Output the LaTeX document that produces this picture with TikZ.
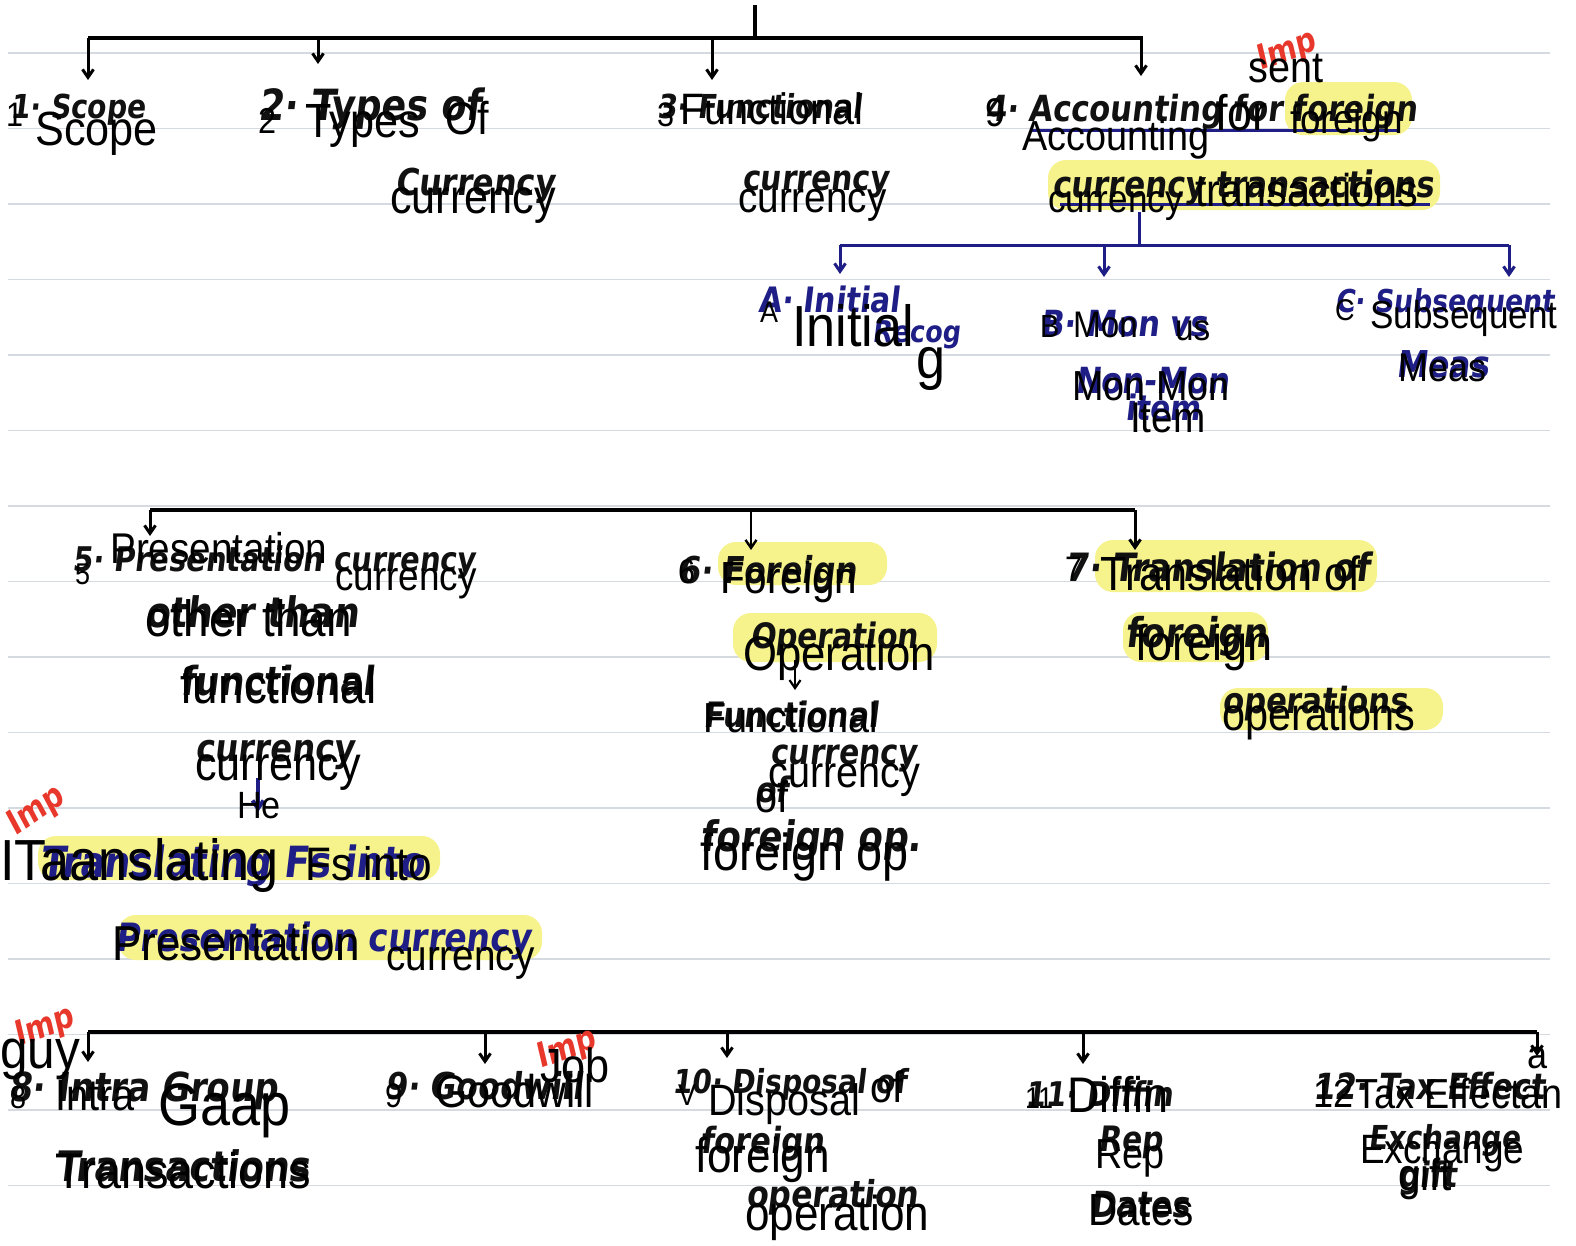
\documentclass[tikz,border=0pt]{standalone}
\usepackage{fontspec}
\usetikzlibrary{arrows.meta}
\newfontfamily\prfont[FakeStretch=0.9]{Liberation Sans}
\newfontfamily\hwfont[FakeStretch=0.85,FakeSlant=0.12]{DejaVu Sans}
\definecolor{ink}{HTML}{111111}
\definecolor{navyink}{HTML}{1E1E86}
\definecolor{impred}{HTML}{E8382C}
\definecolor{hly}{HTML}{F7F38C}
\definecolor{rulec}{HTML}{D5DAE0}
\tikzset{
  ptxt/.style={font=\prfont\fontsize{#1}{#1}\selectfont, anchor=base west, inner sep=0pt, text=black},
  htxt/.style={font=\hwfont\bfseries\fontsize{#1}{#1}\selectfont, anchor=base west, inner sep=0pt, text=ink},
  htxtn/.style={htxt=#1, text=navyink},
  impm/.style={font=\hwfont\bfseries\fontsize{#1}{#1}\selectfont, text=impred, anchor=center, inner sep=0pt, rotate=20},
  hilite/.style={fill=hly, draw=none, rounded corners=18pt},
  ruleline/.style={draw=rulec, line width=1.6pt},
  treeline/.style={draw=black, line width=3.6pt},
  navyline/.style={draw=navyink, line width=3pt},
  downarr/.style={-{Straight Barb[length=8pt,width=11pt]}, line width=3pt},
}
\begin{document}
\begin{tikzpicture}[x=1pt,y=-1pt]
\useasboundingbox[fill=white] (0,0) rectangle (1576,1245);
% ruled lines
\foreach \k in {0,...,15}{
  \draw[ruleline] (8,{53+75.5*\k}) -- (1550,{53+75.5*\k});
}
% highlights
\fill[hilite] (1285,82) rectangle (1412,135);
\fill[hilite] (1048,160) rectangle (1440,210);
\fill[hilite] (718,542) rectangle (887,585);
\fill[hilite] (733,613) rectangle (937,662);
\fill[hilite] (1095,540) rectangle (1377,592);
\fill[hilite] (1123,612) rectangle (1268,662);
\fill[hilite] (1220,688) rectangle (1443,730);
\fill[hilite] (38,836) rectangle (440,880);
\fill[hilite] (118,915) rectangle (542,960);

% ---------- coordinates for trees ----------
\coordinate (topstem) at (755,5);
\coordinate (topj) at (755,38);
\coordinate (tl) at (88,38);
\coordinate (tr) at (1143,38);
\coordinate (b1) at (88,38);   \coordinate (e1) at (88,80);
\coordinate (b2) at (318,38);  \coordinate (e2) at (318,64);
\coordinate (b3) at (712,38);  \coordinate (e3) at (712,80);
\coordinate (b4) at (1141,38); \coordinate (e4) at (1141,76);

\coordinate (substem) at (1139,212);
\coordinate (subj) at (1139,245);
\coordinate (sl) at (840,245);
\coordinate (sr) at (1509,245);
\coordinate (sA) at (840,245);  \coordinate (eA) at (840,274);
\coordinate (sB) at (1104,245); \coordinate (eB) at (1104,277);
\coordinate (sC) at (1509,245); \coordinate (eC) at (1509,277);

\coordinate (ml) at (150,510);
\coordinate (mr) at (1135,510);
\coordinate (m6) at (751,510);
\coordinate (e5) at (150,536);
\coordinate (e6) at (751,550);
\coordinate (e7) at (1135,550);

\coordinate (bl) at (88,1032);
\coordinate (br) at (1537,1032);
\coordinate (b9) at (485,1032);
\coordinate (b10) at (727,1032);
\coordinate (b11) at (1083,1032);
\coordinate (e8) at (88,1062);
\coordinate (e9) at (485,1064);
\coordinate (e10) at (727,1058);
\coordinate (e11) at (1083,1064);
\coordinate (e12) at (1537,1056);

\coordinate (ul1a) at (1030,130); \coordinate (ul1b) at (1400,130);
\coordinate (ul2a) at (1060,204); \coordinate (ul2b) at (1430,204);
\coordinate (hea) at (258,778); \coordinate (heb) at (258,812);
\coordinate (opa) at (795,660); \coordinate (opb) at (795,690);

% trees
\draw[treeline] (topstem) -- (topj);
\draw[treeline] (tl) -- (tr);
\draw[treeline,downarr] (b1) -- (e1);
\draw[treeline,downarr] (b2) -- (e2);
\draw[treeline,downarr] (b3) -- (e3);
\draw[treeline,downarr] (b4) -- (e4);

\draw[navyline] (substem) -- (subj);
\draw[navyline] (sl) -- (sr);
\draw[navyline,downarr] (sA) -- (eA);
\draw[navyline,downarr] (sB) -- (eB);
\draw[navyline,downarr] (sC) -- (eC);

\draw[treeline] (ml) -- (mr);
\draw[treeline,downarr] (ml) -- (e5);
\draw[treeline,downarr,line width=2.4pt] (m6) -- (e6);
\draw[treeline,downarr] (mr) -- (e7);

\draw[treeline] (bl) -- (br);
\draw[treeline,downarr] (bl) -- (e8);
\draw[treeline,downarr] (b9) -- (e9);
\draw[treeline,downarr] (b10) -- (e10);
\draw[treeline,downarr] (b11) -- (e11);
\draw[treeline,downarr] (br) -- (e12);

\draw[navyline] (ul1a) -- (ul1b);
\draw[navyline] (ul2a) -- (ul2b);
\draw[navyline,downarr,line width=4pt] (hea) -- (heb);
\draw[treeline,downarr,line width=2.2pt] (opa) -- (opb);

% ---------- handwriting ----------
\node[htxt=33] (h1) at (10,118) {1· Scope};
\node[htxt=43] (h2) at (258,120) {2· Types of};
\node[htxt=37] (h2b) at (395,195) {Currency};
\node[htxt=33] (h3) at (657,118) {3· Functional};
\node[htxt=35] (h3b) at (742,190) {currency};
\node[htxt=36] (h4) at (985,121) {4· Accounting for foreign};
\node[htxt=36.5] (h4b) at (1052,197) {currency transactions};
\node[htxtn=35] (hA) at (758,312) {A· Initial};
\node[htxtn=30] (hA2) at (872,342) {Recog};
\node[htxtn=36] (hB) at (1040,336) {B· Mon vs};
\node[htxtn=36] (hB2) at (1075,393) {Non-Mon};
\node[htxtn=35] (hB3) at (1125,420) {item};
\node[htxtn=31.5] (hC) at (1335,312) {C· Subsequent};
\node[htxtn=37] (hC2) at (1396,377) {Meas};

\node[htxt=34] (h5) at (72,571) {5· Presentation currency};
\node[htxt=42] (h5b) at (145,627) {other than};
\node[htxt=40] (h5c) at (180,695) {functional};
\node[htxt=38] (h5d) at (195,761) {currency};
\node[htxtn=43] (h5e) at (40,877) {Translating Fs into};
\node[htxtn=39] (h5f) at (115,951) {Presentation currency};
\node[htxt=37] (h6) at (678,583) {6· Foreign};
\node[htxt=35] (h6b) at (750,648) {Operation};
\node[htxt=35] (h6c) at (703,727) {Functional};
\node[htxt=35] (h6d) at (770,764) {currency};
\node[htxt=35] (h6e) at (755,802) {of};
\node[htxt=42] (h6f) at (700,851) {foreign op.};
\node[htxt=39] (h7) at (1065,581) {7· Translation of};
\node[htxt=41] (h7b) at (1125,647) {foreign};
\node[htxt=36] (h7c) at (1222,713) {operations};

\node[htxt=40] (h8) at (8,1101) {8· Intra Group};
\node[htxt=42] (h8b) at (55,1181) {Transactions};
\node[htxt=37] (h9) at (385,1099) {9· Goodwill};
\node[htxt=33] (h10) at (672,1093) {10· Disposal of};
\node[htxt=36] (h10b) at (700,1153) {foreign};
\node[htxt=37] (h10c) at (746,1207) {operation};
\node[htxt=34] (h11) at (1025,1106) {11· Diffin};
\node[htxt=35] (h11b) at (1098,1151) {Rep};
\node[htxt=36] (h11c) at (1090,1217) {Dates};
\node[htxt=36] (h12) at (1313,1099) {12· Tax Effect};
\node[htxt=33] (h12b) at (1368,1149) {Exchange};
\node[htxt=35] (h12c) at (1398,1187) {gift};

% red Imp marks
\node[impm=34] (i1) at (1286,52) {Imp};
\node[impm=34, rotate=15] (i2) at (36,812) {Imp};
\node[impm=34] (i3) at (44,1028) {Imp};
\node[impm=34] (i4) at (566,1050) {Imp};

% ---------- printed (OCR) text ----------
\node[ptxt=34] (p1n) at (6,126) {1};
\node[ptxt=48] (p1) at (35,145) {Scope};
\node[ptxt=36] (p2n) at (258,133) {2};
\node[ptxt=48] (p2) at (305,137) {Types};
\node[ptxt=46] (p2o) at (445,134) {Of};
\node[ptxt=48] (p2b) at (390,213) {currency};
\node[ptxt=34] (p3n) at (657,126) {3};
\node[ptxt=44] (p3) at (680,124) {Functional};
\node[ptxt=43] (p3b) at (738,212) {currency};
\node[ptxt=40] (p4n) at (985,126) {9};
\node[ptxt=42] (p4a) at (1022,150) {Accounting};
\node[ptxt=50] (p4b) at (1215,130) {for};
\node[ptxt=41] (p4c) at (1290,133) {foreign};
\node[ptxt=44] (p4s) at (1248,82) {sent};
\node[ptxt=39] (p4d) at (1048,212) {currency};
\node[ptxt=46] (p4e) at (1195,206) {transactions};
\node[ptxt=30] (pAn) at (760,322) {A};
\node[ptxt=58] (pA) at (792,346) {Initial};
\node[ptxt=58] (pAg) at (916,378) {g};
\node[ptxt=32] (pBn) at (1040,337) {B};
\node[ptxt=37] (pB) at (1073,337) {Mon};
\node[ptxt=37] (pBus) at (1175,340) {us};
\node[ptxt=30] (pCn) at (1335,320) {C};
\node[ptxt=39] (pC) at (1370,328) {Subsequent};
\node[ptxt=40] (pC2) at (1398,381) {Meas};
\node[ptxt=42] (pB2) at (1072,400) {Mon Mon};
\node[ptxt=43] (pB3) at (1130,432) {Item};

\node[ptxt=30] (p5n) at (75,584) {5};
\node[ptxt=43] (p5) at (110,563) {Presentation};
\node[ptxt=41] (p5a) at (335,590) {currency};
\node[ptxt=51] (p5b) at (145,636) {other than};
\node[ptxt=51] (p5c) at (180,703) {functional};
\node[ptxt=48] (p5d) at (195,780) {currency};
\node[ptxt=38] (p5e) at (237,818) {He};
\node[ptxt=58] (p5f) at (0,880) {ITaanslating};
\node[ptxt=47] (p5g) at (305,880) {Fs into};
\node[ptxt=49] (p5h) at (112,960) {Presentation};
\node[ptxt=43] (p5i) at (386,970) {currency};
\node[ptxt=34] (p6n) at (678,583) {6};
\node[ptxt=45] (p6) at (720,593) {Foreign};
\node[ptxt=48.5] (p6a) at (743,670) {Operation};
\node[ptxt=42] (p6b) at (703,732) {Functional};
\node[ptxt=44] (p6c) at (768,787) {currency};
\node[ptxt=44] (p6d) at (755,812) {of};
\node[ptxt=52] (p6e) at (700,870) {foreign op};
\node[ptxt=34] (p7n) at (1065,580) {7};
\node[ptxt=48] (p7) at (1100,590) {Translation of};
\node[ptxt=50] (p7a) at (1135,660) {foreign};
\node[ptxt=46] (p7b) at (1222,730) {operations};

\node[ptxt=55] (p8g) at (0,1068) {guy};
\node[ptxt=32] (p8n) at (10,1108) {8};
\node[ptxt=44] (p8) at (55,1110) {Intra};
\node[ptxt=60] (p8a) at (158,1125) {Gaap};
\node[ptxt=50] (p8b) at (55,1188) {Transactions};
\node[ptxt=34] (p9n) at (385,1107) {9};
\node[ptxt=46] (p9) at (435,1107) {Goodwill};
\node[ptxt=48] (p9j) at (540,1082) {Job};
\node[ptxt=30] (p10n) at (678,1105) {V};
\node[ptxt=44] (p10) at (708,1115) {Disposal};
\node[ptxt=44] (p10o) at (870,1102) {of};
\node[ptxt=49] (p10a) at (695,1172) {foreign};
\node[ptxt=49] (p10b) at (745,1230) {operation};
\node[ptxt=30] (p11n) at (1025,1108) {11};
\node[ptxt=50] (p11) at (1067,1112) {Diffin};
\node[ptxt=42] (p11a) at (1095,1168) {Rep};
\node[ptxt=45] (p11b) at (1088,1225) {Dates};
\node[ptxt=40] (p12n) at (1313,1107) {12};
\node[ptxt=42] (p12) at (1355,1108) {Tax Effectan};
\node[ptxt=40] (p12x) at (1527,1068) {a};
\node[ptxt=41] (p12a) at (1360,1163) {Exchange};
\node[ptxt=45] (p12b) at (1398,1190) {gift};
\end{tikzpicture}
\end{document}
